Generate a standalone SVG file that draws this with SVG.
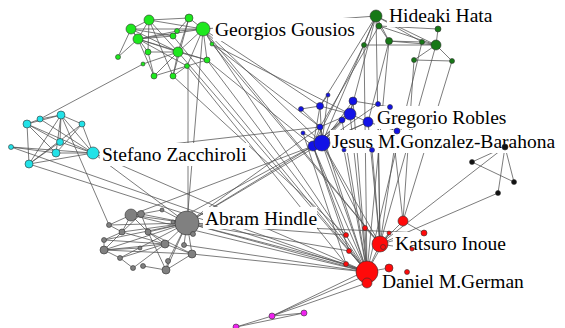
<svg xmlns="http://www.w3.org/2000/svg" width="565" height="328" viewBox="0 0 565 328">
<style>
#edges line{stroke:#505050;stroke-width:0.75;fill:none}
circle{stroke:#333;stroke-width:0.6}
.g circle{fill:#1ee81e}
.h circle{fill:#167816}
.c circle{fill:#22e2e8}
.b circle{fill:#1212e6}
.a circle{fill:#808080}
.r circle{fill:#ff0a0a}
.m circle{fill:#ee22ee}
.k circle{fill:#111}
.lbl rect{fill:#fff}
.lbl text{font-family:"Liberation Serif","Times New Roman",serif;font-size:19.5px;fill:#000}
</style>
<rect width="565" height="328" fill="#fff"/>
<g id="edges">
<!-- green internal -->
<line x1="149" y1="20" x2="189" y2="18"/><line x1="149" y1="20" x2="131" y2="29"/><line x1="149" y1="20" x2="203" y2="29"/>
<line x1="189" y1="18" x2="203" y2="29"/><line x1="131" y1="29" x2="203" y2="29"/><line x1="131" y1="29" x2="138" y2="39"/>
<line x1="138" y1="39" x2="203" y2="29"/><line x1="138" y1="39" x2="173" y2="36"/><line x1="138" y1="39" x2="177" y2="31"/>
<line x1="138" y1="39" x2="178" y2="52"/><line x1="131" y1="29" x2="118" y2="57"/><line x1="138" y1="39" x2="118" y2="57"/>
<line x1="138" y1="39" x2="154" y2="76"/><line x1="148" y1="52" x2="154" y2="76"/><line x1="178" y1="52" x2="154" y2="76"/>
<line x1="178" y1="52" x2="173" y2="76"/><line x1="148" y1="52" x2="178" y2="52"/><line x1="203" y1="29" x2="178" y2="52"/>
<line x1="189" y1="18" x2="178" y2="52"/><line x1="149" y1="20" x2="178" y2="52"/><line x1="131" y1="29" x2="178" y2="52"/>
<line x1="138" y1="39" x2="187" y2="66"/><line x1="178" y1="52" x2="207" y2="60"/><line x1="187" y1="66" x2="173" y2="76"/>
<line x1="203" y1="29" x2="207" y2="60"/><line x1="203" y1="29" x2="212" y2="44"/><line x1="189" y1="18" x2="173" y2="76"/>
<line x1="149" y1="20" x2="173" y2="76"/><line x1="138" y1="39" x2="207" y2="60"/><line x1="173" y1="36" x2="189" y2="18"/>
<line x1="131" y1="29" x2="173" y2="36"/><line x1="143" y1="64" x2="178" y2="52"/><line x1="149" y1="20" x2="148" y2="52"/>
<line x1="131" y1="29" x2="148" y2="52"/><line x1="187" y1="66" x2="207" y2="60"/><line x1="154" y1="76" x2="187" y2="66"/>
<line x1="203" y1="29" x2="187" y2="66"/><line x1="149" y1="20" x2="138" y2="39"/><line x1="177" y1="31" x2="203" y2="29"/>
<!-- hata internal -->
<line x1="376" y1="16" x2="379" y2="26"/><line x1="379" y1="26" x2="389" y2="41"/><line x1="376" y1="16" x2="389" y2="41"/>
<line x1="376" y1="16" x2="364" y2="45"/><line x1="364" y1="45" x2="436" y2="45"/><line x1="389" y1="41" x2="422" y2="42"/>
<line x1="389" y1="41" x2="436" y2="45"/><line x1="379" y1="26" x2="436" y2="45"/><line x1="376" y1="16" x2="436" y2="45"/>
<line x1="422" y1="42" x2="436" y2="45"/><line x1="438" y1="29" x2="436" y2="45"/><line x1="379" y1="26" x2="438" y2="29"/>
<line x1="414" y1="60" x2="452" y2="61"/><line x1="436" y1="45" x2="414" y2="60"/><line x1="436" y1="45" x2="452" y2="61"/>
<line x1="376" y1="16" x2="203" y2="29"/><line x1="376" y1="16" x2="422" y2="42"/>
<!-- cyan internal -->
<line x1="61" y1="115" x2="40" y2="119"/><line x1="40" y1="119" x2="27" y2="124"/><line x1="61" y1="115" x2="27" y2="124"/>
<line x1="61" y1="115" x2="82" y2="124"/><line x1="61" y1="115" x2="60" y2="142"/><line x1="61" y1="115" x2="56" y2="153"/>
<line x1="61" y1="115" x2="93" y2="153"/><line x1="61" y1="115" x2="29" y2="164"/><line x1="27" y1="124" x2="93" y2="153"/>
<line x1="27" y1="124" x2="60" y2="142"/><line x1="27" y1="124" x2="29" y2="164"/><line x1="27" y1="124" x2="56" y2="153"/>
<line x1="82" y1="124" x2="93" y2="153"/><line x1="82" y1="124" x2="29" y2="164"/><line x1="60" y1="142" x2="93" y2="153"/>
<line x1="56" y1="153" x2="93" y2="153"/><line x1="11" y1="147" x2="93" y2="153"/><line x1="11" y1="147" x2="56" y2="153"/>
<line x1="29" y1="164" x2="93" y2="153"/><line x1="40" y1="119" x2="93" y2="153"/><line x1="60" y1="142" x2="29" y2="164"/>
<line x1="82" y1="124" x2="56" y2="153"/>
<!-- blue internal -->
<line x1="328" y1="95" x2="320" y2="106"/><line x1="320" y1="106" x2="350" y2="114"/><line x1="353" y1="101" x2="350" y2="114"/>
<line x1="353" y1="101" x2="390" y2="107"/><line x1="320" y1="106" x2="322" y2="143"/><line x1="320" y1="106" x2="313" y2="146"/>
<line x1="350" y1="114" x2="322" y2="143"/><line x1="350" y1="114" x2="313" y2="146"/><line x1="342" y1="120" x2="322" y2="143"/>
<line x1="342" y1="120" x2="313" y2="146"/><line x1="368" y1="122" x2="322" y2="143"/><line x1="368" y1="122" x2="397" y2="131"/>
<line x1="350" y1="114" x2="320" y2="127"/><line x1="320" y1="127" x2="322" y2="143"/><line x1="320" y1="127" x2="313" y2="146"/>
<line x1="303" y1="133" x2="322" y2="143"/><line x1="350" y1="114" x2="342" y2="120"/><line x1="353" y1="101" x2="322" y2="143"/>
<line x1="368" y1="122" x2="350" y2="114"/><line x1="378" y1="104" x2="322" y2="143"/><line x1="301" y1="109" x2="320" y2="127"/>
<line x1="301" y1="109" x2="320" y2="106"/><line x1="368" y1="122" x2="313" y2="146"/><line x1="397" y1="131" x2="313" y2="146"/>
<line x1="328" y1="95" x2="322" y2="143"/>
<!-- gray internal -->
<line x1="131" y1="215" x2="187" y2="223"/><line x1="141" y1="214" x2="187" y2="223"/><line x1="122" y1="232" x2="187" y2="223"/>
<line x1="148" y1="232" x2="187" y2="223"/><line x1="173" y1="222" x2="187" y2="223"/><line x1="104" y1="250" x2="187" y2="223"/>
<line x1="165" y1="244" x2="187" y2="223"/><line x1="168" y1="261" x2="187" y2="223"/><line x1="166" y1="270" x2="187" y2="223"/>
<line x1="184" y1="245" x2="187" y2="223"/><line x1="192" y1="254" x2="187" y2="223"/><line x1="193" y1="234" x2="187" y2="223"/>
<line x1="104" y1="240" x2="187" y2="223"/><line x1="120" y1="258" x2="187" y2="223"/><line x1="109" y1="225" x2="187" y2="223"/>
<line x1="162" y1="210" x2="187" y2="223"/><line x1="131" y1="215" x2="141" y2="214"/><line x1="131" y1="215" x2="122" y2="232"/>
<line x1="131" y1="215" x2="148" y2="232"/><line x1="141" y1="214" x2="148" y2="232"/><line x1="122" y1="232" x2="104" y2="250"/>
<line x1="109" y1="225" x2="122" y2="232"/><line x1="122" y1="232" x2="104" y2="240"/><line x1="104" y1="240" x2="104" y2="250"/>
<line x1="104" y1="250" x2="192" y2="254"/><line x1="104" y1="250" x2="165" y2="244"/><line x1="104" y1="250" x2="120" y2="258"/>
<line x1="120" y1="258" x2="133" y2="268"/><line x1="143" y1="266" x2="166" y2="270"/><line x1="168" y1="261" x2="166" y2="270"/>
<line x1="166" y1="270" x2="192" y2="254"/><line x1="165" y1="244" x2="192" y2="254"/><line x1="122" y1="232" x2="165" y2="244"/>
<line x1="148" y1="232" x2="165" y2="244"/><line x1="148" y1="232" x2="166" y2="270"/><line x1="141" y1="214" x2="122" y2="232"/>
<line x1="109" y1="225" x2="131" y2="215"/><line x1="140" y1="248" x2="104" y2="250"/><line x1="148" y1="232" x2="192" y2="254"/>
<line x1="120" y1="258" x2="165" y2="244"/><line x1="133" y1="268" x2="165" y2="244"/><line x1="104" y1="240" x2="165" y2="244"/>
<line x1="141" y1="214" x2="162" y2="210"/>
<!-- red internal -->
<line x1="367" y1="272" x2="380" y2="244"/><line x1="367" y1="272" x2="365" y2="228"/><line x1="367" y1="272" x2="346" y2="235"/>
<line x1="367" y1="272" x2="349" y2="251"/><line x1="367" y1="272" x2="346" y2="264"/><line x1="380" y1="244" x2="403" y2="221"/>
<line x1="380" y1="244" x2="424" y2="233"/><line x1="380" y1="244" x2="389" y2="233"/><line x1="380" y1="244" x2="365" y2="228"/>
<line x1="403" y1="221" x2="424" y2="233"/><line x1="380" y1="244" x2="412" y2="249"/><line x1="367" y1="272" x2="389" y2="268"/>
<line x1="367" y1="272" x2="389" y2="233"/>
<!-- magenta -->
<line x1="236" y1="327" x2="272" y2="316"/><line x1="236" y1="327" x2="304" y2="313"/><line x1="272" y1="316" x2="304" y2="313"/>
<line x1="272" y1="316" x2="360" y2="278"/><line x1="272" y1="316" x2="364" y2="284"/><line x1="272" y1="316" x2="357" y2="275"/>
<!-- black -->
<line x1="505" y1="147" x2="472" y2="162"/><line x1="472" y1="162" x2="514" y2="182"/><line x1="505" y1="147" x2="514" y2="182"/>
<line x1="505" y1="147" x2="498" y2="193"/><line x1="505" y1="147" x2="380" y2="244"/><line x1="498" y1="193" x2="380" y2="244"/>
<!-- inter-cluster -->
<line x1="203" y1="29" x2="367" y2="272"/><line x1="203" y1="29" x2="380" y2="244"/><line x1="207" y1="60" x2="367" y2="272"/>
<line x1="212" y1="44" x2="380" y2="244"/><line x1="178" y1="52" x2="367" y2="272"/><line x1="187" y1="66" x2="346" y2="264"/>
<line x1="173" y1="36" x2="367" y2="272"/><line x1="173" y1="76" x2="346" y2="235"/><line x1="203" y1="29" x2="322" y2="143"/>
<line x1="207" y1="60" x2="313" y2="146"/><line x1="212" y1="44" x2="350" y2="114"/><line x1="203" y1="29" x2="320" y2="106"/>
<line x1="212" y1="44" x2="320" y2="127"/><line x1="188" y1="67" x2="188" y2="212"/><line x1="203" y1="29" x2="187" y2="223"/>
<line x1="376" y1="16" x2="320" y2="106"/><line x1="376" y1="16" x2="322" y2="143"/><line x1="364" y1="45" x2="313" y2="146"/>
<line x1="376" y1="16" x2="350" y2="114"/><line x1="379" y1="26" x2="320" y2="127"/><line x1="364" y1="45" x2="367" y2="272"/>
<line x1="376" y1="16" x2="380" y2="244"/><line x1="389" y1="41" x2="367" y2="272"/><line x1="414" y1="60" x2="403" y2="221"/>
<line x1="436" y1="45" x2="380" y2="244"/><line x1="452" y1="61" x2="403" y2="221"/><line x1="422" y1="42" x2="367" y2="272"/>
<line x1="389" y1="41" x2="368" y2="122"/>
<line x1="322" y1="143" x2="367" y2="272"/><line x1="313" y1="146" x2="367" y2="272"/><line x1="322" y1="143" x2="380" y2="244"/>
<line x1="320" y1="127" x2="367" y2="272"/><line x1="350" y1="114" x2="367" y2="272"/><line x1="368" y1="122" x2="380" y2="244"/>
<line x1="342" y1="120" x2="367" y2="272"/><line x1="344" y1="150" x2="367" y2="272"/><line x1="372" y1="150" x2="380" y2="244"/>
<line x1="397" y1="131" x2="380" y2="244"/><line x1="303" y1="133" x2="346" y2="264"/><line x1="353" y1="101" x2="367" y2="272"/>
<line x1="390" y1="107" x2="403" y2="221"/><line x1="378" y1="104" x2="380" y2="244"/><line x1="313" y1="146" x2="346" y2="235"/>
<line x1="322" y1="143" x2="365" y2="228"/><line x1="313" y1="146" x2="349" y2="251"/>
<line x1="187" y1="223" x2="367" y2="272"/><line x1="187" y1="223" x2="424" y2="233"/><line x1="187" y1="223" x2="346" y2="235"/>
<line x1="187" y1="223" x2="349" y2="251"/><line x1="187" y1="223" x2="346" y2="264"/><line x1="192" y1="254" x2="367" y2="272"/>
<line x1="184" y1="245" x2="367" y2="272"/><line x1="131" y1="215" x2="367" y2="272"/><line x1="187" y1="223" x2="322" y2="143"/>
<line x1="187" y1="223" x2="313" y2="146"/><line x1="187" y1="223" x2="320" y2="127"/><line x1="173" y1="222" x2="313" y2="146"/>
<line x1="131" y1="215" x2="313" y2="146"/>
<line x1="61" y1="115" x2="109" y2="225"/><line x1="93" y1="153" x2="187" y2="223"/><line x1="11" y1="147" x2="367" y2="272"/>
<line x1="29" y1="164" x2="367" y2="272"/><line x1="93" y1="153" x2="367" y2="272"/><line x1="40" y1="119" x2="143" y2="64"/>
<line x1="320" y1="127" x2="93" y2="153"/>
</g>
<g id="labels" class="lbl">
<g id="label-gousios"><rect x="213" y="18" width="146" height="23"/><text x="215" y="36">Georgios Gousios</text></g>
<g id="label-hata"><rect x="387" y="4" width="124" height="23"/><text x="389" y="22">Hideaki Hata</text></g>
<g id="label-robles"><rect x="375" y="106" width="133" height="23"/><text x="377" y="124">Gregorio Robles</text></g>
<g id="label-gonzalez"><rect x="330" y="130" width="226" height="23"/><text x="332" y="148">Jesus M.Gonzalez-Barahona</text></g>
<g id="label-zacchiroli"><rect x="100" y="143" width="149" height="23"/><text x="102" y="161">Stefano Zacchiroli</text></g>
<g id="label-hindle"><rect x="203" y="207" width="114" height="22"/><text x="205" y="225">Abram Hindle</text></g>
<g id="label-inoue"><rect x="393" y="232" width="120" height="23"/><text x="395" y="250">Katsuro Inoue</text></g>
<g id="label-german"><rect x="380" y="270" width="148" height="23"/><text x="382" y="288">Daniel M.German</text></g>
</g>
<g class="g">
<g id="G0"><circle cx="203" cy="29" r="7"/></g><g id="G1"><circle cx="149" cy="20" r="5"/></g><g id="G2"><circle cx="189" cy="18" r="4"/></g>
<g id="G3"><circle cx="131" cy="29" r="5"/></g><g id="G4"><circle cx="138" cy="39" r="5"/></g><g id="G5"><circle cx="173" cy="36" r="3"/></g>
<g id="G6"><circle cx="177" cy="31" r="2.5"/></g><g id="G7"><circle cx="178" cy="52" r="5"/></g><g id="G8"><circle cx="148" cy="52" r="3"/></g>
<g id="G9"><circle cx="118" cy="57" r="2.5"/></g><g id="G10"><circle cx="143" cy="64" r="2"/></g><g id="G11"><circle cx="154" cy="76" r="3"/></g>
<g id="G12"><circle cx="173" cy="76" r="3"/></g><g id="G13"><circle cx="187" cy="66" r="2.5"/></g><g id="G14"><circle cx="207" cy="60" r="3"/></g>
<g id="G15"><circle cx="212" cy="44" r="2"/></g>
</g>
<g class="h">
<g id="H0"><circle cx="376" cy="16" r="6"/></g><g id="H1"><circle cx="379" cy="26" r="3"/></g><g id="H2"><circle cx="389" cy="41" r="3.5"/></g>
<g id="H3"><circle cx="364" cy="45" r="2.5"/></g><g id="H4"><circle cx="422" cy="42" r="2.5"/></g><g id="H5"><circle cx="438" cy="29" r="3"/></g>
<g id="H6"><circle cx="436" cy="45" r="5"/></g><g id="H7"><circle cx="414" cy="60" r="2.5"/></g><g id="H8"><circle cx="452" cy="61" r="2.5"/></g>
</g>
<g class="c">
<g id="C0"><circle cx="93" cy="153" r="6"/></g><g id="C1"><circle cx="61" cy="115" r="4"/></g><g id="C2"><circle cx="40" cy="119" r="3"/></g>
<g id="C3"><circle cx="27" cy="124" r="4"/></g><g id="C4"><circle cx="82" cy="124" r="3"/></g><g id="C5"><circle cx="60" cy="142" r="3.5"/></g>
<g id="C6"><circle cx="56" cy="153" r="4"/></g><g id="C7"><circle cx="11" cy="147" r="2.5"/></g><g id="C8"><circle cx="29" cy="164" r="4"/></g>
</g>
<g class="b">
<g id="B0"><circle cx="328" cy="95" r="2"/></g><g id="B1"><circle cx="353" cy="101" r="4"/></g><g id="B2"><circle cx="378" cy="104" r="2.5"/></g>
<g id="B3"><circle cx="390" cy="107" r="2.5"/></g><g id="B4"><circle cx="320" cy="106" r="3.5"/></g><g id="B5"><circle cx="301" cy="109" r="2.5"/></g>
<g id="B6"><circle cx="350" cy="114" r="6"/></g><g id="B7"><circle cx="342" cy="120" r="3"/></g><g id="B8"><circle cx="368" cy="122" r="5"/></g>
<g id="B9"><circle cx="320" cy="127" r="3"/></g><g id="B10"><circle cx="303" cy="133" r="2"/></g><g id="B11"><circle cx="397" cy="131" r="3"/></g>
<g id="B13"><circle cx="313" cy="146" r="5"/></g><g id="B12"><circle cx="322" cy="143" r="8"/></g><g id="B14"><circle cx="344" cy="150" r="2"/></g>
<g id="B15"><circle cx="372" cy="150" r="2.5"/></g>
</g>
<g class="a">
<g id="A0"><circle cx="187" cy="223" r="12"/></g><g id="A1"><circle cx="131" cy="215" r="6"/></g><g id="A2"><circle cx="141" cy="214" r="3.5"/></g>
<g id="A3"><circle cx="162" cy="210" r="2"/></g><g id="A4"><circle cx="109" cy="225" r="2.5"/></g><g id="A5"><circle cx="122" cy="232" r="3"/></g>
<g id="A6"><circle cx="148" cy="232" r="3"/></g><g id="A7"><circle cx="173" cy="222" r="2"/></g><g id="A8"><circle cx="104" cy="240" r="2.5"/></g>
<g id="A9"><circle cx="104" cy="250" r="4"/></g><g id="A10"><circle cx="120" cy="258" r="2.5"/></g><g id="A11"><circle cx="133" cy="268" r="2.5"/></g>
<g id="A12"><circle cx="143" cy="266" r="2.5"/></g><g id="A13"><circle cx="165" cy="244" r="4"/></g><g id="A14"><circle cx="168" cy="261" r="2.5"/></g>
<g id="A15"><circle cx="166" cy="270" r="4"/></g><g id="A16"><circle cx="184" cy="245" r="2.5"/></g><g id="A17"><circle cx="192" cy="254" r="4"/></g>
<g id="A18"><circle cx="193" cy="234" r="2.5"/></g><g id="A19"><circle cx="140" cy="248" r="2"/></g>
</g>
<g class="r">
<g id="R0"><circle cx="367" cy="272" r="11"/></g><g id="R1"><circle cx="367" cy="283" r="5"/></g><g id="R2"><circle cx="380" cy="244" r="8"/></g>
<g id="R3"><circle cx="383" cy="247" r="2.5"/></g><g id="R4"><circle cx="403" cy="221" r="5"/></g><g id="R5"><circle cx="424" cy="233" r="3"/></g>
<g id="R6"><circle cx="365" cy="228" r="2.5"/></g><g id="R7"><circle cx="389" cy="233" r="2"/></g><g id="R8"><circle cx="346" cy="235" r="2.5"/></g>
<g id="R9"><circle cx="349" cy="251" r="2.5"/></g><g id="R10"><circle cx="346" cy="264" r="2.5"/></g><g id="R11"><circle cx="389" cy="268" r="4"/></g>
<g id="R12"><circle cx="407" cy="272" r="2.5"/></g><g id="R13"><circle cx="412" cy="249" r="2"/></g>
</g>
<g class="m">
<g id="M0"><circle cx="272" cy="316" r="3"/></g><g id="M1"><circle cx="304" cy="313" r="3"/></g><g id="M2"><circle cx="236" cy="327" r="3"/></g>
</g>
<g class="k">
<g id="K0"><circle cx="505" cy="147" r="3"/></g><g id="K1"><circle cx="472" cy="162" r="2.5"/></g><g id="K2"><circle cx="514" cy="182" r="2.5"/></g>
<g id="K3"><circle cx="498" cy="193" r="2.5"/></g>
</g>
</svg>
